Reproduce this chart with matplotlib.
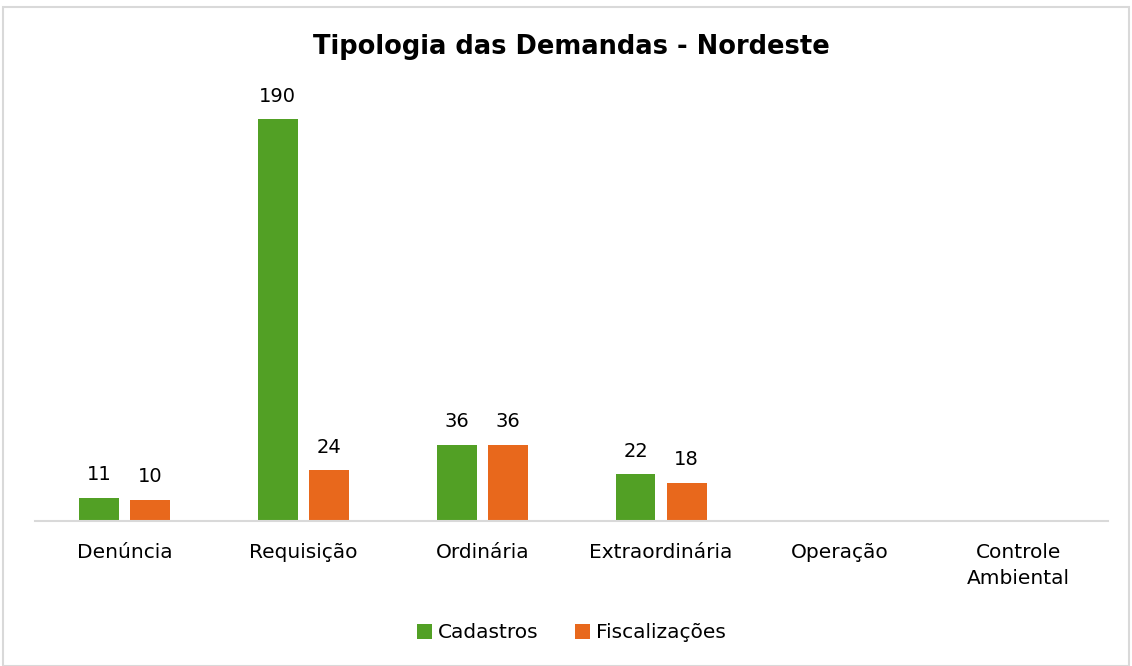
import numpy as np
import matplotlib.pyplot as plt
from matplotlib.patches import Rectangle

categories = ["Denúncia", "Requisição", "Ordinária", "Extraordinária", "Operação", "Controle\nAmbiental"]
cadastros = [11, 190, 36, 22, 0, 0]
fiscalizacoes = [10, 24, 36, 18, 0, 0]
series_names = ["Cadastros", "Fiscalizações"]

green = "#52A025"
orange = "#E8681C"

fig = plt.figure(figsize=(11.32, 6.66), dpi=100)
fig.patches.append(Rectangle((0.003, 0.0), 0.994, 0.989, transform=fig.transFigure,
                             fill=False, edgecolor="#D9D9D9", linewidth=1.5))
ax = fig.add_axes([0.031, 0.2177, 0.948, 0.635])

x = np.arange(len(categories))
w = 0.223
off = 0.143
b1 = ax.bar(x - off, cadastros, w, color=green, label=series_names[0])
b2 = ax.bar(x + off, fiscalizacoes, w, color=orange, label=series_names[1])

for bars, vals in ((b1, cadastros), (b2, fiscalizacoes)):
    for bar, v in zip(bars, vals):
        if v:
            ax.text(bar.get_x() + bar.get_width() / 2, v + 6.5, str(v),
                    ha="center", va="bottom", fontsize=14, color="#000000")

ax.set_xlim(-0.5, len(categories) - 0.5)
ax.set_ylim(0, 200)
ax.set_xticks(x)
ax.set_xticklabels(categories, fontsize=14.5, linespacing=1.45)
ax.tick_params(axis="x", length=0, pad=16)
ax.set_yticks([])
for s in ("top", "right", "left"):
    ax.spines[s].set_visible(False)
ax.spines["bottom"].set_color("#D9D9D9")
ax.spines["bottom"].set_linewidth(1.5)

fig.text(0.505, 0.93, "Tipologia das Demandas - Nordeste", ha="center", va="center",
         fontsize=18.5, fontweight="bold")

fig.legend(handles=[b1, b2], loc="center", bbox_to_anchor=(0.505, 0.05), ncol=2,
           frameon=False, fontsize=14.5, handlelength=0.75, handleheight=0.75,
           handletextpad=0.3, columnspacing=1.8)

plt.savefig("out.png", dpi=100)
plt.close()
